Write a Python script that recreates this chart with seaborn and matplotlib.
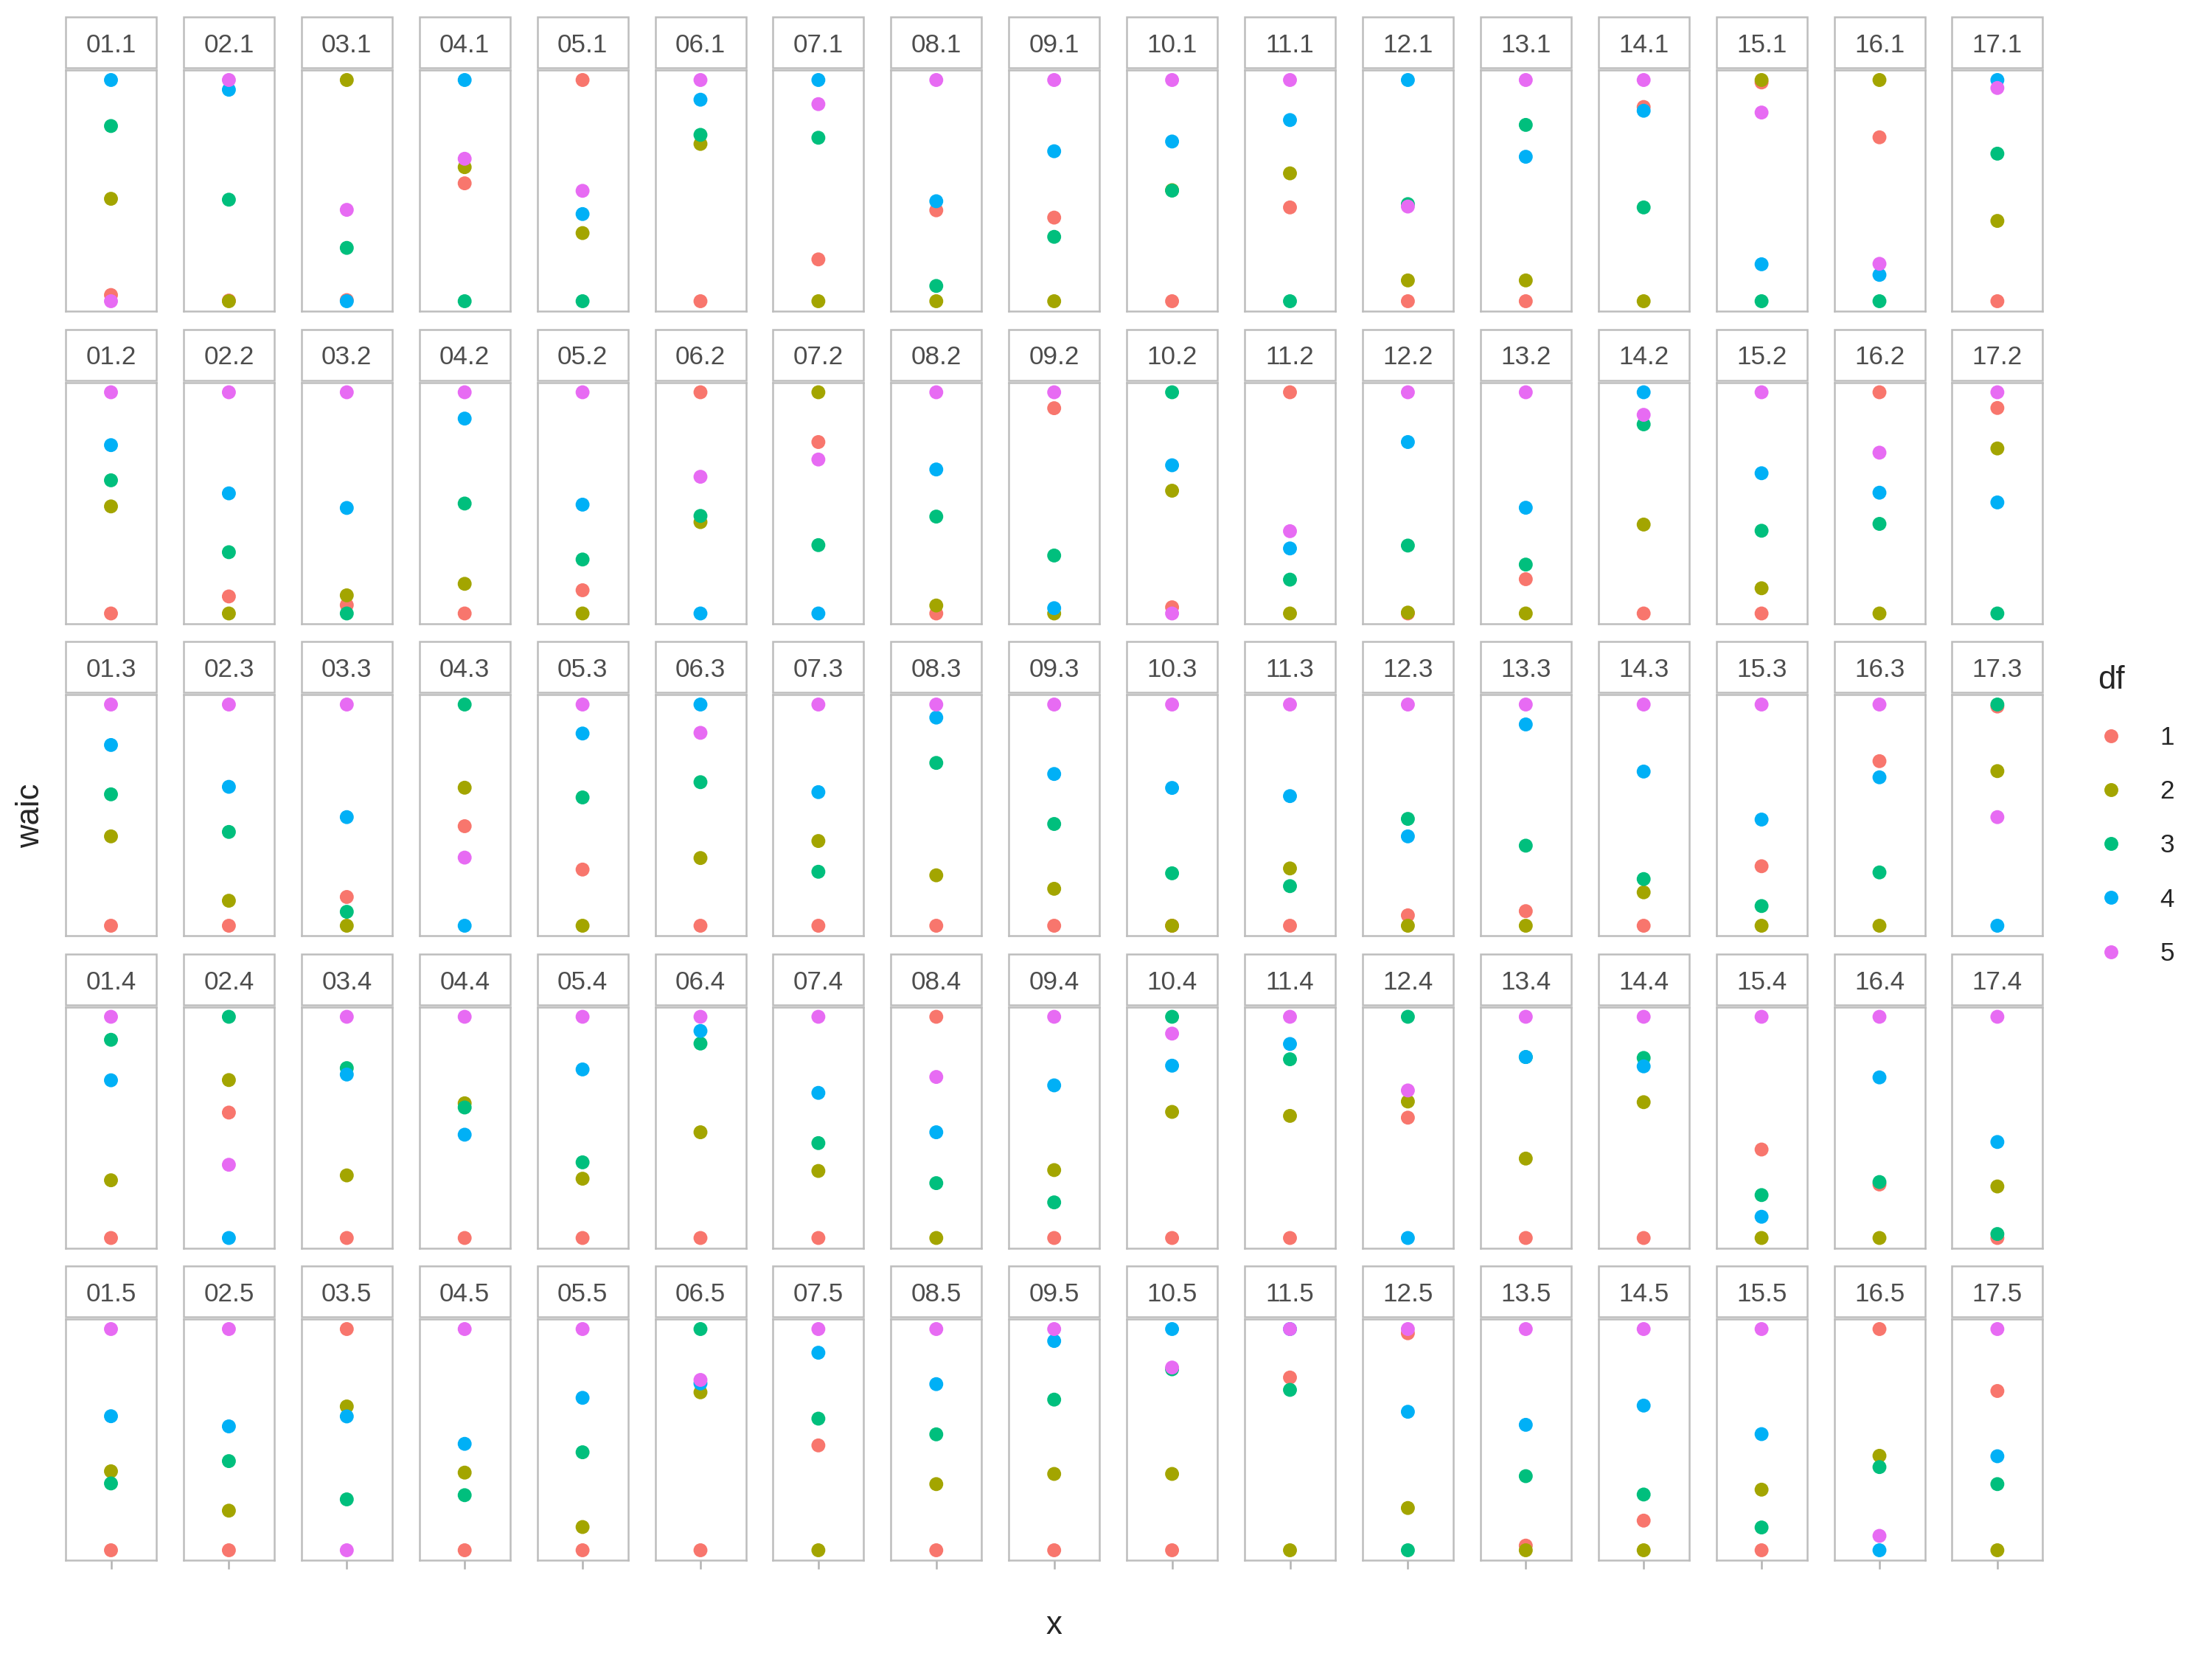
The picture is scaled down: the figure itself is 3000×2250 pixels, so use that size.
import numpy as np
import pandas as pd
import seaborn as sns
import matplotlib.pyplot as plt
from matplotlib.patches import Rectangle

sns.set_theme(style='white')
plt.rcParams['font.family'] = ['Liberation Sans', 'DejaVu Sans']

# --- data (scaled waic per panel) ---
n_cols = 17
n_rows = 5
df_levels = ['1', '2', '3', '4', '5']
colors = ['#F8766D', '#A3A500', '#00BF7D', '#00B0F6', '#E76BF3']

# one inner list per facet row (x.1 ... x.5), 17 values for panels 01..17
waic_df1 = [
    [0.028, 0.003, 0.005, 0.533, 1.0, 0.0, 0.189, 0.411, 0.378, 0.0, 0.424, 0.0, 0.0, 0.878, 0.989, 0.741, 0.0],
    [0.0, 0.077, 0.038, 0.0, 0.105, 1.0, 0.775, 0.0, 0.928, 0.028, 1.0, 0.0, 0.155, 0.0, 0.0, 1.0, 0.929],
    [0.0, 0.0, 0.130, 0.450, 0.254, 0.0, 0.0, 0.0, 0.0, 0.0, 0.0, 0.047, 0.066, 0.0, 0.269, 0.744, 0.991],
    [0.0, 0.567, 0.0, 0.0, 0.0, 0.0, 0.0, 1.0, 0.0, 0.0, 0.0, 0.544, 0.0, 0.0, 0.400, 0.242, 0.0],
    [0.0, 0.0, 1.0, 0.0, 0.0, 0.0, 0.474, 0.0, 0.0, 0.0, 0.781, 0.981, 0.021, 0.134, 0.0, 1.0, 0.720],
]
waic_df2 = [
    [0.463, 0.0, 1.0, 0.606, 0.308, 0.711, 0.0, 0.0, 0.0, 0.502, 0.578, 0.094, 0.094, 0.0, 1.0, 1.0, 0.363],
    [0.484, 0.0, 0.082, 0.134, 0.0, 0.413, 1.0, 0.036, 0.0, 0.555, 0.0, 0.004, 0.0, 0.402, 0.114, 0.0, 0.746],
    [0.404, 0.113, 0.0, 0.624, 0.0, 0.306, 0.383, 0.228, 0.167, 0.0, 0.259, 0.0, 0.0, 0.151, 0.0, 0.0, 0.699],
    [0.261, 0.714, 0.283, 0.609, 0.268, 0.478, 0.303, 0.0, 0.307, 0.570, 0.552, 0.617, 0.359, 0.614, 0.0, 0.0, 0.233],
    [0.357, 0.179, 0.650, 0.351, 0.105, 0.714, 0.0, 0.299, 0.345, 0.345, 0.0, 0.191, 0.0, 0.0, 0.274, 0.427, 0.0],
]
waic_df3 = [
    [0.792, 0.459, 0.241, 0.0, 0.0, 0.752, 0.739, 0.069, 0.291, 0.5, 0.0, 0.439, 0.797, 0.424, 0.0, 0.0, 0.667],
    [0.602, 0.277, 0.0, 0.497, 0.244, 0.441, 0.309, 0.438, 0.262, 1.0, 0.153, 0.307, 0.221, 0.855, 0.374, 0.405, 0.0],
    [0.594, 0.424, 0.063, 1.0, 0.580, 0.649, 0.244, 0.736, 0.460, 0.237, 0.179, 0.483, 0.362, 0.211, 0.089, 0.241, 1.0],
    [0.896, 1.0, 0.768, 0.590, 0.342, 0.879, 0.429, 0.248, 0.161, 1.0, 0.808, 1.0, 0.818, 0.814, 0.194, 0.253, 0.018],
    [0.302, 0.403, 0.230, 0.249, 0.443, 1.0, 0.595, 0.524, 0.681, 0.818, 0.725, 0.0, 0.335, 0.252, 0.103, 0.376, 0.299],
]
waic_df4 = [
    [1.0, 0.956, 0.0, 1.0, 0.394, 0.911, 1.0, 0.452, 0.678, 0.722, 0.819, 1.0, 0.653, 0.861, 0.167, 0.119, 1.0],
    [0.761, 0.543, 0.477, 0.881, 0.492, 0.0, 0.0, 0.651, 0.024, 0.670, 0.294, 0.775, 0.478, 1.0, 0.634, 0.546, 0.502],
    [0.817, 0.628, 0.491, 0.0, 0.869, 1.0, 0.604, 0.941, 0.686, 0.623, 0.586, 0.404, 0.910, 0.697, 0.480, 0.671, 0.0],
    [0.713, 0.0, 0.739, 0.467, 0.762, 0.936, 0.656, 0.478, 0.690, 0.779, 0.877, 0.0, 0.818, 0.776, 0.096, 0.726, 0.434],
    [0.606, 0.560, 0.605, 0.481, 0.689, 0.754, 0.893, 0.751, 0.946, 1.0, 1.0, 0.626, 0.567, 0.654, 0.525, 0.0, 0.425],
]
waic_df5 = [
    [0.0, 1.0, 0.413, 0.644, 0.499, 1.0, 0.891, 1.0, 1.0, 1.0, 1.0, 0.428, 1.0, 1.0, 0.853, 0.169, 0.964],
    [1.0, 1.0, 1.0, 1.0, 1.0, 0.618, 0.696, 1.0, 1.0, 0.0, 0.372, 1.0, 1.0, 0.898, 1.0, 0.727, 1.0],
    [1.0, 1.0, 1.0, 0.308, 1.0, 0.872, 1.0, 1.0, 1.0, 1.0, 1.0, 1.0, 1.0, 1.0, 1.0, 1.0, 0.491],
    [1.0, 0.331, 1.0, 1.0, 1.0, 1.0, 1.0, 0.728, 1.0, 0.924, 1.0, 0.667, 1.0, 1.0, 1.0, 1.0, 1.0],
    [1.0, 1.0, 0.0, 1.0, 1.0, 0.770, 1.0, 1.0, 1.0, 0.826, 1.0, 1.0, 1.0, 1.0, 1.0, 0.065, 1.0],
]

series = [waic_df1, waic_df2, waic_df3, waic_df4, waic_df5]
records = []
for lvl, vals in zip(df_levels, series):
    for r in range(n_rows):
        for c in range(n_cols):
            records.append({'panel': f'{c + 1:02d}.{r + 1}', 'row': r, 'col': c,
                            'x': '', 'df': lvl, 'waic': vals[r][c]})
data = pd.DataFrame(records)
palette = dict(zip(df_levels, colors))

# --- layout in pixels of the 3000x2250 output ---
W, H = 3000, 2250
fig = plt.figure(figsize=(15, 11.25), dpi=200)

left0, col_step, pw = 89, 159.9, 123
top0, row_step, ph = 95, 423.5, 327
strip_h, strip_gap = 69, 3
edge = '#BDBDBD'

handles = labels = None
for (r, c), sub in data.groupby(['row', 'col']):
    x0 = left0 + c * col_step
    y_top = top0 + r * row_step
    ax = fig.add_axes([x0 / W, 1 - (y_top + ph) / H, pw / W, ph / H])
    sns.stripplot(data=sub, x='x', y='waic', hue='df', hue_order=df_levels,
                  palette=palette, jitter=False, size=6.8, linewidth=0,
                  ax=ax, legend=(handles is None))
    if handles is None:
        handles, labels = ax.get_legend_handles_labels()
        ax.get_legend().remove()
    ax.set_xlim(-0.5, 0.5)
    ax.set_ylim(-0.045, 1.045)
    ax.set_xlabel('')
    ax.set_ylabel('')
    ax.set_yticks([])
    for s in ax.spines.values():
        s.set_color(edge)
        s.set_linewidth(0.9)
    if r == n_rows - 1:
        ax.tick_params(axis='x', bottom=True, length=4.3, width=0.9,
                       color='#B3B3B3', labelbottom=False)
    else:
        ax.tick_params(axis='x', bottom=False, labelbottom=False)
    # facet strip
    y0 = 1 + strip_gap / ph
    sh = strip_h / ph
    ax.add_patch(Rectangle((0, y0), 1, sh, transform=ax.transAxes, clip_on=False,
                           facecolor='white', edgecolor=edge, linewidth=0.9))
    ax.text(0.5, 1 + 24 / ph, sub['panel'].iloc[0], transform=ax.transAxes,
            ha='center', va='baseline', fontsize=12.6, color='#4D4D4D')

fig.text(1429 / W, 1 - 2204 / H, 'x', ha='center', va='center', fontsize=15.7)
fig.text(42 / W, 1 - 1106 / H, 'waic', ha='center', va='center',
         rotation=90, fontsize=15.7)

fig.legend(handles, labels, title='df', loc='upper left',
           bbox_to_anchor=(2828 / W, 1 - 885 / H), frameon=False,
           fontsize=12.6, title_fontsize=15.7, alignment='left',
           labelspacing=1.15, handlelength=1.0, handletextpad=1.4,
           markerscale=1.0, borderpad=0)

fig.savefig('out.png', dpi=200, facecolor='white')
